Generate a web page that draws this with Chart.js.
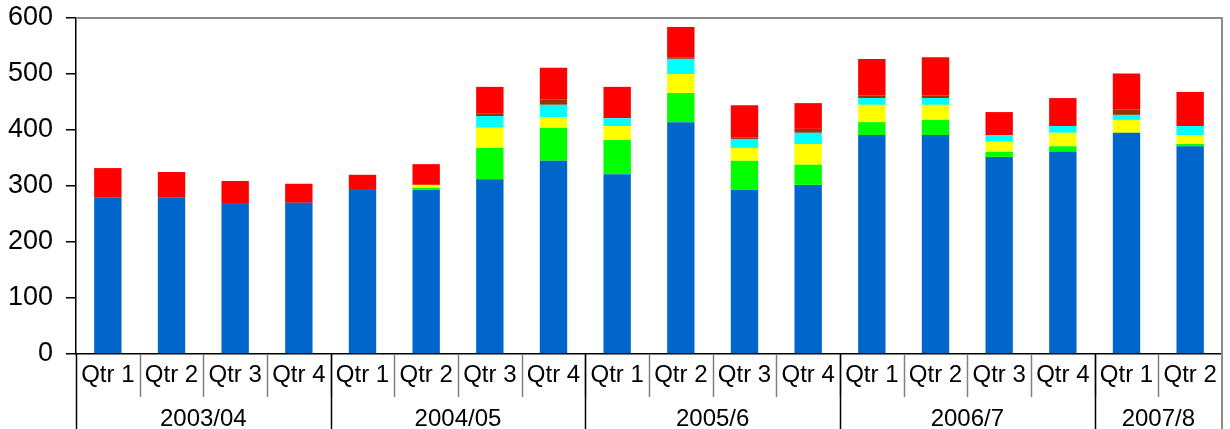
<!DOCTYPE html>
<html>
<head>
<meta charset="utf-8">
<script src="https://cdn.jsdelivr.net/npm/chart.js@4"></script>
<style>
  html, body { margin:0; padding:0; background:#fff; }
  #wrap { width:1230px; height:429px; position:relative; }
</style>
</head>
<body>
<div id="wrap"><canvas id="chart"></canvas></div>
<script>
// categories
const quarters = ['Qtr 1','Qtr 2','Qtr 3','Qtr 4','Qtr 1','Qtr 2','Qtr 3','Qtr 4','Qtr 1','Qtr 2','Qtr 3','Qtr 4','Qtr 1','Qtr 2','Qtr 3','Qtr 4','Qtr 1','Qtr 2'];
const years = ['2003/04','2004/05','2005/6','2006/7','2007/8'];
const yearSpans = [4,4,4,4,2];

// series values (bottom to top)
const blueVals   = [279,279,268,270,293,293,312,345,321,414,293,302,391,391,352,361,395,371];
const greenVals  = [0,0,0,0,0,4,56,59,61,52,52,36,23,27,9,10,0,4];
const yellowVals = [0,0,0,0,0,5,36,19,25,34,23,37,31,27,18,24,23,16];
const cyanVals   = [0,0,0,0,0,0,21,22,14,27,16,20,12,12,12,12,9,16];
const brownVals  = [0,0,0,0,0,0,5,9,0,2,3,7,5,4,0,0,10,0];
const redVals    = [53,46,41,34,27,37,47,57,56,55,57,46,65,69,41,50,64,61];

const yTicks = [0,100,200,300,400,500,600];

const FONT = '"Liberation Sans", Arial, sans-serif';

/* draws the two-row category box under the plot and the grey frame */
const axisBoxPlugin = {
  id: 'axisBox',
  afterDraw(chart){
    const ctx = chart.ctx;
    const x = chart.scales.x;
    const area = chart.chartArea;
    const top = area.bottom;
    const rowMid = top + 43;
    const bottom = chart.height;
    const half = (x.getPixelForValue(1) - x.getPixelForValue(0)) / 2;

    ctx.save();
    // grey frame top & right
    ctx.strokeStyle = '#8c8c8c';
    ctx.lineWidth = 2;
    ctx.beginPath();
    ctx.moveTo(area.left, area.top);
    ctx.lineTo(area.right, area.top);
    ctx.lineTo(area.right, bottom);
    ctx.stroke();

    // quarter labels + separators
    ctx.font = '24px ' + FONT;
    ctx.fillStyle = '#000';
    ctx.textAlign = 'center';
    ctx.textBaseline = 'middle';
    quarters.forEach((q,i)=>{
      ctx.fillText(q, x.getPixelForValue(i), top + 21);
    });
    ctx.strokeStyle = '#808080';
    ctx.lineWidth = 1.5;
    for(let i=1;i<quarters.length;i++){
      const px = Math.round(x.getPixelForValue(i) - half) + 0.5;
      ctx.beginPath();
      ctx.moveTo(px, top);
      ctx.lineTo(px, rowMid);
      ctx.stroke();
    }

    // year groups
    let start = 0;
    ctx.strokeStyle = '#000';
    ctx.lineWidth = 1.5;
    const leftPx = Math.round(x.getPixelForValue(0) - half) + 0.5;
    ctx.beginPath();
    ctx.moveTo(leftPx, top);
    ctx.lineTo(leftPx, bottom);
    ctx.stroke();
    years.forEach((y,g)=>{
      const end = start + yearSpans[g] - 1;
      const cx = (x.getPixelForValue(start) + x.getPixelForValue(end)) / 2;
      ctx.fillText(y, cx, top + 65);
      if(g < years.length - 1){
        const px = Math.round(x.getPixelForValue(end) + half) + 0.5;
        ctx.beginPath();
        ctx.moveTo(px, top);
        ctx.lineTo(px, bottom);
        ctx.stroke();
      }
      start = end + 1;
    });
    ctx.restore();
  }
};

function ds(data, color){
  return { data, backgroundColor: color, borderWidth: 0, barPercentage: 0.43, categoryPercentage: 1 };
}

new Chart(document.getElementById('chart'), {
  type: 'bar',
  data: {
    labels: quarters.map((q,i)=> q + '#' + i),
    datasets: [
      ds(blueVals,   '#0066CC'),
      ds(greenVals,  '#00FF00'),
      ds(yellowVals, '#FFFF00'),
      ds(cyanVals,   '#00FFFF'),
      ds(brownVals,  '#993300'),
      ds(redVals,    '#FF0000')
    ]
  },
  options: {
    responsive: true,
    maintainAspectRatio: false,
    animation: false,
    layout: { padding: { top: 18, right: 8, left: 0, bottom: 0 } },
    plugins: { legend: { display: false }, tooltip: { enabled: false } },
    scales: {
      x: {
        stacked: true,
        ticks: { display: false },
        grid: { display: false },
        border: { display: true, color: '#000', width: 1.5 },
        afterFit(scale){ scale.height = 75; }
      },
      y: {
        stacked: true,
        min: 0, max: 600,
        afterBuildTicks(scale){ scale.ticks = yTicks.map(v => ({ value: v })); },
        ticks: { color: '#000', font: { family: FONT, size: 27 }, padding: 13 },
        grid: { drawOnChartArea: false, drawTicks: true, tickLength: 10, color: '#000', lineWidth: 1.5 },
        border: { display: true, color: '#000', width: 1.5 },
        afterFit(scale){ scale.width = 76; scale.paddingTop = 0; scale.paddingBottom = 0; }
      }
    }
  },
  plugins: [axisBoxPlugin]
});
</script>
</body>
</html>
